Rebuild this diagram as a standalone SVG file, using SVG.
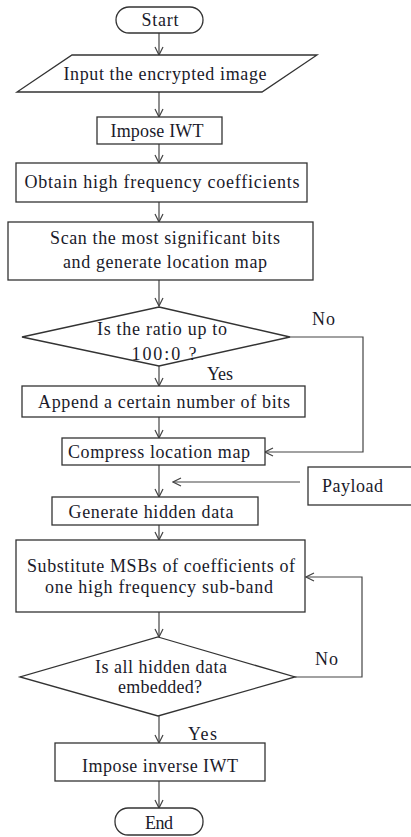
<svg xmlns="http://www.w3.org/2000/svg" width="411" height="837" viewBox="0 0 411 837" font-family="'Liberation Serif', 'Times New Roman', serif">
<defs>
<style>
.n{fill:#fff;stroke:#333;stroke-width:1.3}
.t{font-size:18px;fill:#1a1a2a;text-anchor:middle}
.l{font-size:18px;fill:#1a1a2a}
.c{fill:none;stroke:#444;stroke-width:1.2;marker-end:url(#a)}
</style>
<marker id="a" markerWidth="10" markerHeight="10" refX="9" refY="5" orient="auto" markerUnits="userSpaceOnUse">
<path d="M1,1 L9,5 L1,9" fill="none" stroke="#444" stroke-width="1.2"/>
</marker>
</defs>
<rect width="411" height="837" fill="#fff"/>
<g id="connectors">
<path class="c" d="M159,33 V55"/>
<path class="c" d="M159,92 V117"/>
<path class="c" d="M159,144 V163"/>
<path class="c" d="M159,202 V222"/>
<path class="c" d="M159,280 V306"/>
<path class="c" d="M159,366 V386"/>
<path class="c" d="M159,417 V438"/>
<path class="c" d="M290,337 H363 V452 H265"/>
<path class="c" d="M159,465 V497"/>
<path class="c" d="M300,482 H173"/>
<path class="c" d="M159,525 V540"/>
<path class="c" d="M159,612 V637"/>
<path class="c" d="M295,677 H362 V577 H306"/>
<path class="c" d="M159,716 V743"/>
<path class="c" d="M159,781 V808"/>
<text class="l" x="312" y="325" textLength="23">No</text>
<text class="l" x="207" y="380" textLength="26">Yes</text>
<text class="l" x="315" y="665" textLength="23">No</text>
<text class="l" x="188" y="740" textLength="29">Yes</text>
</g>
<g id="start">
<rect class="n" x="116" y="7" width="87" height="26" rx="13"/>
<text class="t" x="160" y="26" textLength="37">Start</text>
</g>
<g id="input">
<polygon class="n" points="72,55 317,55 262,92 17,92"/>
<text class="t" x="165" y="80" textLength="203">Input the encrypted image</text>
</g>
<g id="impose">
<rect class="n" x="97" y="117" width="125" height="27"/>
<text class="t" x="157" y="137" textLength="93">Impose IWT</text>
</g>
<g id="obtain">
<rect class="n" x="16" y="163" width="291" height="39"/>
<text class="t" x="162" y="188" textLength="275">Obtain high frequency coefficients</text>
</g>
<g id="scan">
<rect class="n" x="8" y="222" width="305" height="58"/>
<text class="t" x="165" y="244" textLength="230">Scan the most significant bits</text>
<text class="t" x="165" y="268" textLength="204">and generate location map</text>
</g>
<g id="ratio">
<polygon class="n" points="159,307 290,337 159,366 22,337"/>
<text class="t" x="162" y="335" textLength="130">Is the ratio up to</text>
<text class="t" x="164" y="360" textLength="65">100:0 ?</text>
</g>
<g id="append">
<rect class="n" x="22" y="386" width="283" height="31"/>
<text class="t" x="164" y="408" textLength="252">Append a certain number of bits</text>
</g>
<g id="compress">
<rect class="n" x="62" y="438" width="203" height="27"/>
<text class="t" x="159" y="458" textLength="182">Compress location map</text>
</g>
<g id="payload">
<rect class="n" x="308" y="467" width="110" height="38"/>
<text class="l" x="322" y="492" textLength="61">Payload</text>
</g>
<g id="generate">
<rect class="n" x="52" y="497" width="206" height="28"/>
<text class="t" x="151" y="518" textLength="165">Generate hidden data</text>
</g>
<g id="substitute">
<rect class="n" x="16" y="540" width="289" height="72"/>
<text class="t" x="161" y="572" textLength="268">Substitute MSBs of coefficients of</text>
<text class="t" x="159" y="593" textLength="228">one high frequency sub-band</text>
</g>
<g id="embedded">
<polygon class="n" points="158,637 295,677 158,716 20,677"/>
<text class="t" x="161" y="673" textLength="132">Is all hidden data</text>
<text class="t" x="160" y="693" textLength="84">embedded?</text>
</g>
<g id="inverse">
<rect class="n" x="55" y="743" width="210" height="38"/>
<text class="t" x="160" y="772" textLength="156">Impose inverse IWT</text>
</g>
<g id="end">
<rect class="n" x="115" y="808" width="88" height="27" rx="13"/>
<text class="t" x="159" y="829" textLength="28">End</text>
</g>
</svg>
